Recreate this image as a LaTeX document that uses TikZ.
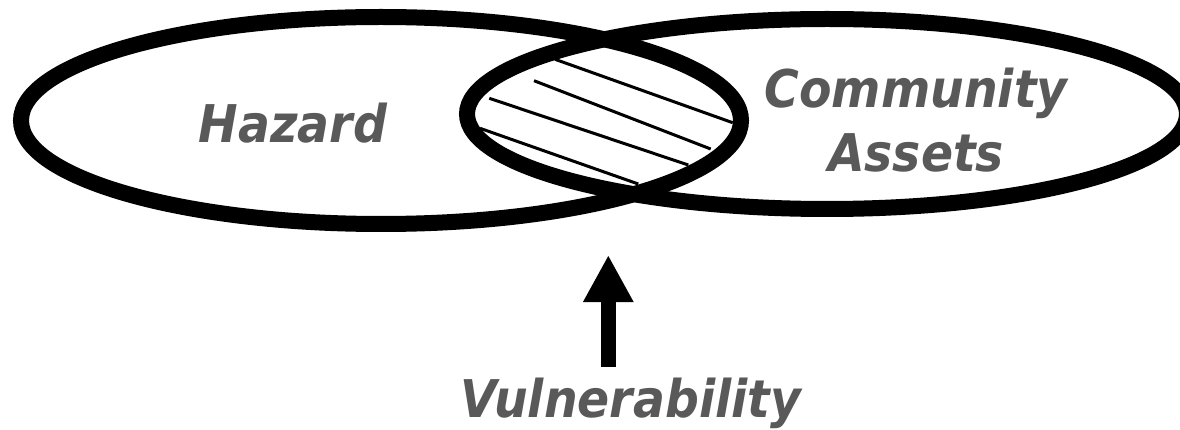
\documentclass[tikz,border=0pt]{standalone}
\usepackage{fontspec}
\newfontfamily\lblfont[FakeStretch=0.91]{DejaVu Sans}
\usetikzlibrary{arrows.meta}
\definecolor{lblgray}{HTML}{595959}
\tikzset{
  ring/.style={draw=black, line width=16pt},
  hatch/.style={draw=black, line width=3pt},
  lbl/.style={text=lblgray, font=\lblfont\bfseries\itshape\fontsize{52}{64}\selectfont, inner sep=0pt, anchor=base, align=center},
  bigarrow/.style={line width=15pt, -{Triangle[length=47pt, width=47pt]}}
}
\begin{document}
\begin{tikzpicture}[x=1pt, y=-1pt]
\useasboundingbox (0,0) rectangle (1180,430);
% ellipses
\draw[ring] (381,120.5) ellipse [x radius=360, y radius=103.5];
\draw[ring] (827,114) ellipse [x radius=360, y radius=95];
% hatching of the overlap
\draw[hatch] (555,59.3) -- (732.7,122.7);
\draw[hatch] (534,80.7) -- (710.7,149);
\draw[hatch] (489.3,98.3) -- (688.3,165);
\draw[hatch] (480,128.3) -- (638.3,184);
% labels
\node[lbl] (hazard) at (293,143) {Hazard};
\node[lbl] (assets) at (916,172) {Community\\Assets};
\node[lbl] (vuln) at (631,417.5) {Vulnerability};
% arrow
\coordinate (abase) at (608.3,367);
\coordinate (atip) at (608.3,255);
\draw[bigarrow] (abase) -- (atip);
\end{tikzpicture}
\end{document}
